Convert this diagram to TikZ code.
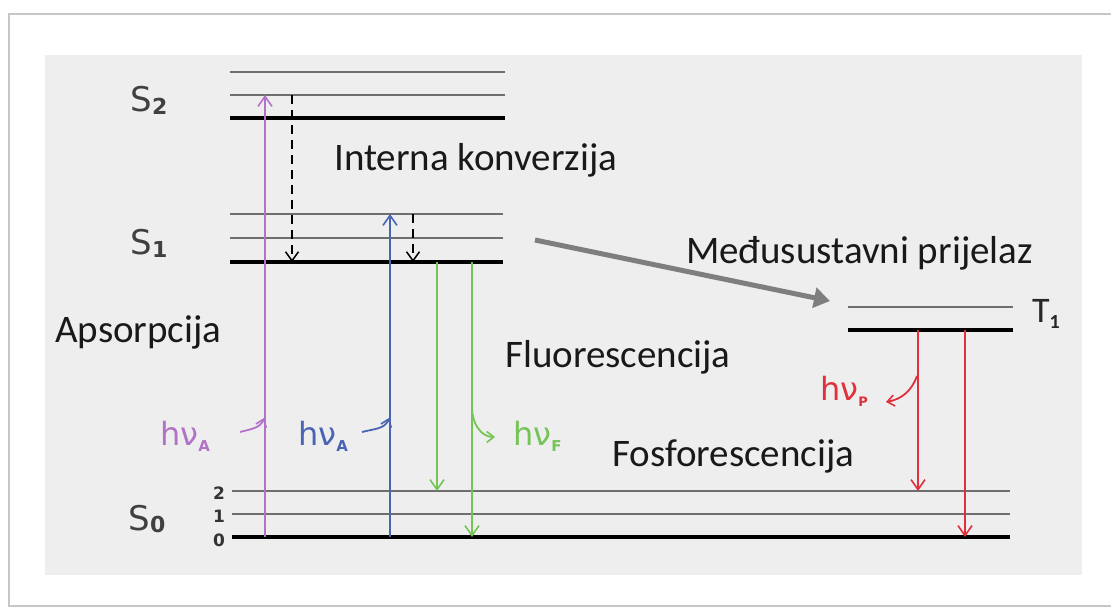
\documentclass[tikz,border=0pt]{standalone}
\usepackage{fontspec}
\setmainfont{Carlito}
\newfontfamily\symfont{DejaVu Sans}
\usetikzlibrary{arrows.meta}
\definecolor{panel}{HTML}{EEEEEE}
\definecolor{lvlgrey}{HTML}{6E6E6E}
\definecolor{absP}{HTML}{B272C8}
\definecolor{absB}{HTML}{4A64B4}
\definecolor{fluG}{HTML}{74C456}
\definecolor{phoR}{HTML}{E0303C}
\definecolor{iscG}{HTML}{7E7E7E}
\tikzset{
  thinlvl/.style={draw=lvlgrey,line width=1.6pt},
  thicklvl/.style={draw=black,line width=3.4pt},
  lbl/.style={inner sep=0pt,font=\fontsize{39}{41}\selectfont,text=black!90},
  statelbl/.style={inner sep=0pt,font=\symfont\fontsize{34}{36}\selectfont,text=black!75},
  vnum/.style={inner sep=0pt,font=\symfont\fontsize{17}{17}\selectfont\bfseries,text=black!80},
  hvlbl/.style={inner sep=0pt,font=\symfont\fontsize{32}{34}\selectfont},
  trans/.style={line width=1.6pt,-{Straight Barb[length=10pt,width=14pt,line width=1.6pt]}},
  ic/.style={line width=1.6pt,dash pattern=on 9pt off 6pt,-{Straight Barb[length=9pt,width=13pt,line width=1.5pt]}},
  photon/.style={line width=1.8pt,-{Straight Barb[length=7pt,width=11pt,line width=1.6pt]}}
}
\begin{document}
\begin{tikzpicture}[x=1pt,y=-1pt]
\useasboundingbox (0,0) rectangle (1111,609);
% page frame
\draw[black!22,line width=1.5pt] (1120,14) -- (9,14) -- (9,606) -- (1120,606);
\fill[panel] (45,55) rectangle (1082,575);
% S2 levels
\draw[thinlvl] (230,72) -- (505,72);
\draw[thinlvl] (230,95) -- (505,95);
\draw[thicklvl] (230,118) -- (505,118);
% S1 levels
\draw[thinlvl] (230,214) -- (503,214);
\draw[thinlvl] (230,238) -- (503,238);
\draw[thicklvl] (230,262) -- (503,262);
% S0 levels
\draw[thinlvl] (232,491) -- (1010,491);
\draw[thinlvl] (232,514) -- (1010,514);
\draw[thicklvl] (232,537) -- (1010,537);
% T1 levels
\draw[thinlvl] (848,307) -- (1013,307);
\draw[thicklvl] (848,330) -- (1013,330);
% state labels
\node[statelbl] (s2) at (149,100) {S\raisebox{-0.15ex}{\fontsize{22}{22}\selectfont\bfseries 2}};
\node[statelbl] (s1) at (149,243) {S\raisebox{-0.15ex}{\fontsize{22}{22}\selectfont\bfseries 1}};
\node[statelbl] (s0) at (147,519) {S\raisebox{-0.15ex}{\fontsize{22}{22}\selectfont\bfseries 0}};
\node[vnum] (v2) at (219,493) {2};
\node[vnum] (v1) at (219,516) {1};
\node[vnum] (v0) at (219,540) {0};
\node[inner sep=0pt,font=\fontsize{36}{38}\selectfont,text=black!85] (t1) at (1046,314) {T\raisebox{-0.35ex}{\fontsize{20}{20}\selectfont\bfseries 1}};
% process labels
\node[lbl,anchor=west] (ik) at (334,160) {Interna konverzija};
\node[lbl,anchor=west] (msp) at (686,253) {Međusustavni prijelaz};
\node[lbl,anchor=west] (aps) at (55,332) {Apsorpcija};
\node[lbl,anchor=west] (flu) at (505,357) {Fluorescencija};
\node[lbl,anchor=west] (fos) at (612,456) {Fosforescencija};
% coordinates of transitions
\coordinate (pa0) at (265,537); \coordinate (pa1) at (265,95);
\coordinate (ba0) at (390,537); \coordinate (ba1) at (390,214);
\coordinate (ic1a) at (292,95); \coordinate (ic1b) at (292,262);
\coordinate (ic2a) at (413,214); \coordinate (ic2b) at (413,262);
\coordinate (fa0) at (437,262); \coordinate (fa1) at (437,491);
\coordinate (fb0) at (472,262); \coordinate (fb1) at (472,537);
\coordinate (ra0) at (918,330); \coordinate (ra1) at (918,491);
\coordinate (rb0) at (965,330); \coordinate (rb1) at (965,537);
\coordinate (isc0) at (535,240); \coordinate (isc1) at (830,301);
% absorption
\draw[trans,absP] (pa0) -- (pa1);
\draw[trans,absB] (ba0) -- (ba1);
% internal conversion
\draw[ic] (ic1a) -- (ic1b);
\draw[ic] (ic2a) -- (ic2b);
% fluorescence
\draw[trans,fluG] (fa0) -- (fa1);
\draw[trans,fluG] (fb0) -- (fb1);
% phosphorescence
\draw[trans,phoR] (ra0) -- (ra1);
\draw[trans,phoR] (rb0) -- (rb1);
% intersystem crossing
\draw[iscG,line width=5pt,-{Triangle[length=16pt,width=20pt]}] (isc0) -- (isc1);
% photon labels
\node[hvlbl,text=absP,anchor=west] (hvp) at (160,436) {hν\raisebox{-0.35ex}{\fontsize{15}{15}\selectfont\bfseries A}};
\node[hvlbl,text=absB,anchor=west] (hvb) at (298,436) {hν\raisebox{-0.35ex}{\fontsize{15}{15}\selectfont\bfseries A}};
\node[hvlbl,text=fluG,anchor=west] (hvf) at (513,436) {hν\raisebox{-0.35ex}{\fontsize{15}{15}\selectfont\bfseries F}};
\node[hvlbl,text=phoR,anchor=west] (hvr) at (820,391) {hν\raisebox{-0.35ex}{\fontsize{13}{13}\selectfont\bfseries P}};
% photon arrows
\coordinate (pp0) at (240,432); \coordinate (pp1) at (264,418);
\draw[photon,absP] (pp0) to[out=15,in=250] (pp1);
\coordinate (bp0) at (362,432); \coordinate (bp1) at (389,418);
\draw[photon,absB] (bp0) to[out=15,in=250] (bp1);
\coordinate (gp0) at (472,408); \coordinate (gp1) at (495,437);
\draw[photon,fluG] (gp0) to[out=270,in=180] (gp1);
\coordinate (rp0) at (917,376); \coordinate (rp1) at (886,402);
\draw[photon,phoR] (rp0) to[out=250,in=10] (rp1);
\end{tikzpicture}
\end{document}
